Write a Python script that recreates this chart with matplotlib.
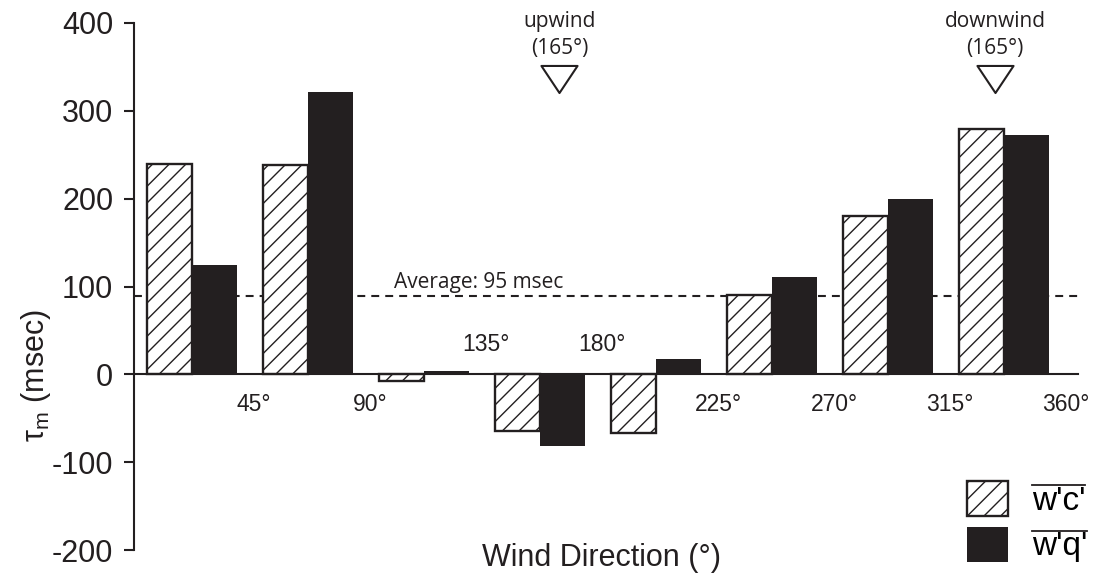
import matplotlib
matplotlib.use('Agg')
import matplotlib.pyplot as plt
from matplotlib.patches import Patch
from matplotlib.lines import Line2D
from matplotlib.path import Path

# wind sectors (start of each 45 degree bin)
sectors = [0, 45, 90, 135, 180, 225, 270, 315]
wc = [240, 238, -8, -65, -67, 90, 180, 279]   # w'c' time lag (msec)
wq = [125, 321, 4, -82, 18, 111, 200, 272]    # w'q' time lag (msec)

tick_pos = [45, 90, 135, 180, 225, 270, 315, 360]
tick_labels = ['45°', '90°', '135°', '180°', '225°', '270°', '315°', '360°']
above_axis = [135, 180]

avg_line = 89
marks = [(165, 'upwind\n(165°)'), (334, 'downwind\n(165°)')]

dark = '#231f20'
plt.rcParams['font.family'] = ['Liberation Sans', 'DejaVu Sans']
plt.rcParams['mathtext.fontset'] = 'custom'
plt.rcParams['mathtext.rm'] = 'Liberation Sans'
plt.rcParams['hatch.linewidth'] = 1.0

fig = plt.figure(figsize=(10.93, 5.83), dpi=100)
ax = fig.add_axes([134 / 1093, 33 / 583, (1090 - 134) / 1093, 527 / 583])

w = 17.5
ax.bar([s + 5 for s in sectors], wc, width=w, align='edge', facecolor='white',
       edgecolor=dark, hatch='//', linewidth=1.7, zorder=2)
ax.bar([s + 5 + w for s in sectors], wq, width=w, align='edge', color=dark,
       linewidth=0, zorder=2)

ax.set_xlim(0, 370.8)
ax.set_ylim(-200, 400)

for sp in ['top', 'right']:
    ax.spines[sp].set_visible(False)
ax.spines['left'].set_linewidth(1.5)
ax.spines['left'].set_color(dark)
ax.spines['bottom'].set_position(('data', 0))
ax.spines['bottom'].set_bounds(0, 366)
ax.spines['bottom'].set_linewidth(1.5)
ax.spines['bottom'].set_color(dark)
ax.spines['bottom'].set_zorder(3)

ax.set_yticks([-200, -100, 0, 100, 200, 300, 400])
ax.set_yticklabels(['-200', '-100', '0', '100', '200', '300', '400'])
ax.tick_params(axis='y', labelsize=22, length=7, width=1.5, pad=8, colors=dark,
               labelcolor=dark)
ax.set_xticks([])

for p, lab in zip(tick_pos, tick_labels):
    if p in above_axis:
        ax.text(p + 1.5, 26, lab, ha='center', va='baseline', fontsize=16.5, color=dark)
    else:
        ax.text(p + 1.5, -42, lab, ha='center', va='baseline', fontsize=16.5, color=dark)

# average line
ln, = ax.plot([0, 368], [avg_line, avg_line], color=dark, lw=1.5, zorder=1)
ln.set_dashes((3.8, 2.9))
ax.text(101, 98, 'Average: 95 msec', fontsize=15, family='Open Sans',
        ha='left', va='baseline', color=dark)

# upwind / downwind markers
tri = Path([(-1, 0.75), (1, 0.75), (0, -0.75), (-1, 0.75)], closed=True)
for x, lab in marks:
    ax.plot([x], [336], marker=tri, markersize=26, mfc='white', mec=dark,
            mew=1.5, clip_on=False, zorder=4)
    ax.text(x, 359, lab, ha='center', va='bottom', fontsize=15, family='Open Sans',
            color=dark, linespacing=1.38, clip_on=False)

fig.text(602 / 1093, 1 - 558 / 583, 'Wind Direction (°)', ha='center', va='center',
         fontsize=22, color=dark)
fig.text(36 / 1093, 1 - 376 / 583, 'τ$_\\mathrm{m}$ (msec)', ha='center', va='center',
         rotation=90, fontsize=22, color=dark)

handles = [Patch(facecolor='white', edgecolor=dark, hatch='//', linewidth=1.7),
           Patch(facecolor=dark, edgecolor=dark, linewidth=0)]
leg = ax.legend(handles, ["w'c'", "w'q'"], loc='upper left',
                bbox_to_anchor=(967 / 1093, 1 - 481 / 583), bbox_transform=fig.transFigure,
                frameon=False, fontsize=24, handlelength=1.24, handleheight=1.24,
                handletextpad=0.7, labelspacing=0.3, borderpad=0, borderaxespad=0)

# overbars on legend labels
fig.canvas.draw()
r = fig.canvas.get_renderer()
for t in leg.get_texts():
    bb = t.get_window_extent(r)
    yc = (bb.y0 + bb.y1) / 2 + 16
    fig.add_artist(Line2D([bb.x0 / 1093, bb.x1 / 1093], [yc / 583, yc / 583],
                          transform=fig.transFigure, color=dark, lw=1.3))

fig.savefig('out.png', dpi=100)
